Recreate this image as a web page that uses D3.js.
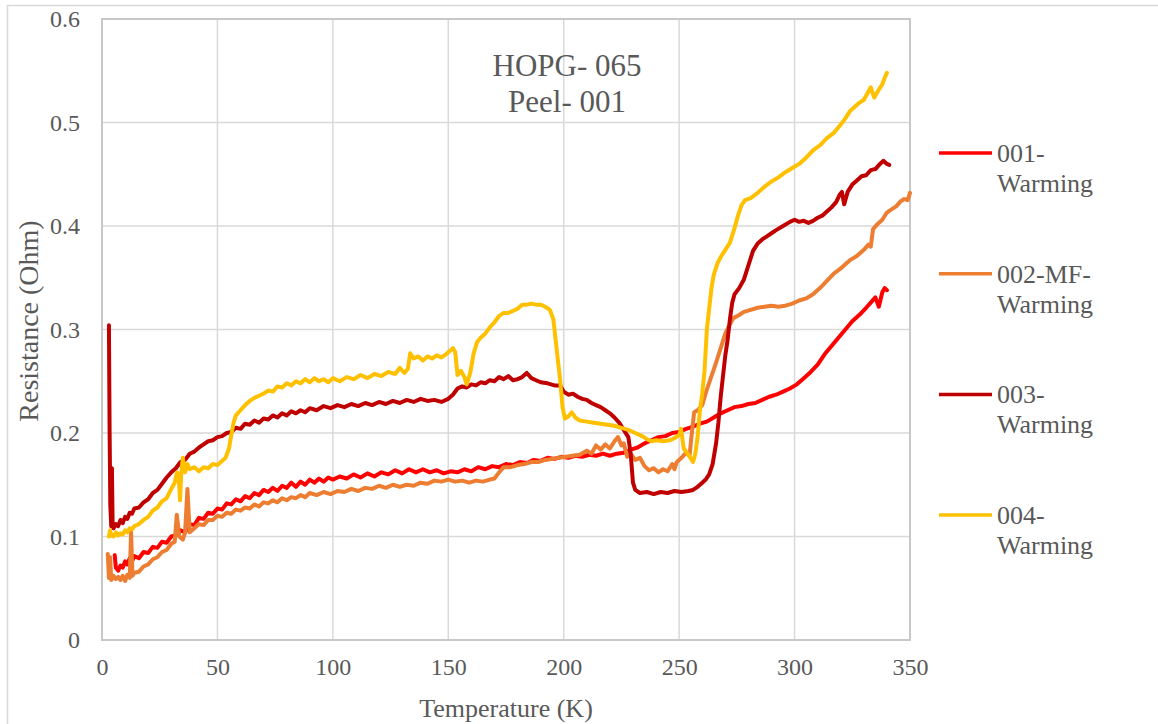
<!DOCTYPE html>
<html>
<head>
<meta charset="utf-8">
<script src="https://cdn.jsdelivr.net/npm/d3@7"></script>
<style>
  body { margin: 0; background: #fff; }
  svg text { font-family: "Liberation Serif", "Tinos", "Times New Roman", "Times", "Nimbus Roman", "Nimbus Roman No9 L", "FreeSerif", "Noto Serif", "DejaVu Serif", "Noto Serif CJK SC", serif; fill: #595959; }
</style>
</head>
<body>
<div id="chart"></div>
<script>
// data: [temperature K, resistance Ohm]
const xTicks = [0, 50, 100, 150, 200, 250, 300, 350]
const yTicks = [0, 0.1, 0.2, 0.3, 0.4, 0.5, 0.6]
const chartTitle = ["HOPG- 065", "Peel- 001"]
const seriesNames = [["001-", "Warming"], ["002-MF-", "Warming"], ["003-", "Warming"], ["004-", "Warming"]]
const seriesColors = ["#FF0000", "#ED7D31", "#C00000", "#FFC000"]

const run001 = [[5.5,0.082],[6,0.070],[7,0.067],[8,0.072],[9,0.070],[10,0.076],[11,0.073],[12,0.079],[13,0.076],[14,0.081],[16,0.079],[18,0.085],[20,0.084],[22,0.090],[24,0.089],[26,0.095],[28,0.094],[30,0.100],[32,0.101],[34,0.106],[36,0.104],[38,0.112],[40,0.111],[42,0.118],[44,0.117],[46,0.123],[48,0.122],[50,0.127],[52,0.126],[54,0.132],[56,0.131],[58,0.136],[60,0.134],[62,0.139],[64,0.137],[66,0.142],[68,0.140],[70,0.145],[72,0.143],[74,0.147],[76,0.144],[78,0.149],[80,0.147],[82,0.152],[84,0.148],[86,0.153],[88,0.150],[90,0.155],[92,0.152],[94,0.156],[96,0.153],[98,0.157],[100,0.155],[103,0.158],[106,0.156],[109,0.160],[112,0.157],[115,0.161],[118,0.158],[121,0.162],[124,0.160],[127,0.164],[130,0.161],[133,0.165],[136,0.162],[139,0.165],[142,0.162],[145,0.164],[148,0.161],[151,0.163],[154,0.162],[157,0.165],[160,0.163],[163,0.167],[166,0.165],[169,0.168],[172,0.167],[175,0.170],[178,0.169],[181,0.172],[184,0.171],[187,0.174],[190,0.173],[193,0.176],[196,0.175],[199,0.177],[202,0.176],[205,0.178],[208,0.177],[211,0.179],[214,0.178],[217,0.180],[220,0.178],[223,0.180],[226,0.181],[229,0.184],[232,0.186],[235,0.190],[238,0.193],[241,0.196],[244,0.197],[247,0.200],[250,0.201],[253,0.204],[256,0.206],[259,0.209],[262,0.211],[265,0.215],[268,0.219],[271,0.222],[274,0.225],[277,0.226],[280,0.228],[283,0.229],[286,0.232],[289,0.235],[292,0.237],[295,0.240],[298,0.243],[301,0.247],[304,0.253],[307,0.259],[310,0.266],[313,0.276],[316,0.284],[319,0.292],[322,0.300],[325,0.308],[328,0.314],[331,0.321],[333,0.326],[335,0.331],[336.5,0.322],[338,0.336],[339,0.340],[340,0.338]]

const run002 = [[2.5,0.083],[3,0.060],[3.5,0.080],[4,0.058],[5,0.062],[6,0.059],[7,0.061],[8,0.058],[9,0.062],[10,0.057],[11,0.063],[12,0.060],[12.6,0.104],[13.2,0.062],[14,0.065],[16,0.066],[18,0.071],[20,0.073],[22,0.078],[24,0.080],[26,0.085],[28,0.087],[30,0.093],[31.5,0.095],[32.4,0.121],[33.5,0.100],[35,0.097],[36,0.104],[37,0.146],[38,0.104],[40,0.108],[42,0.112],[44,0.111],[46,0.116],[48,0.116],[50,0.120],[52,0.119],[54,0.123],[56,0.122],[58,0.126],[60,0.125],[62,0.128],[64,0.127],[66,0.131],[68,0.129],[70,0.133],[72,0.132],[74,0.135],[76,0.133],[78,0.137],[80,0.135],[82,0.138],[84,0.137],[86,0.140],[88,0.138],[90,0.142],[93,0.140],[96,0.143],[99,0.141],[102,0.144],[105,0.143],[108,0.146],[111,0.144],[114,0.147],[117,0.146],[120,0.149],[123,0.147],[126,0.150],[129,0.148],[132,0.150],[135,0.149],[138,0.152],[141,0.151],[144,0.154],[147,0.153],[150,0.155],[153,0.153],[156,0.154],[159,0.152],[162,0.154],[165,0.153],[168,0.155],[170,0.156],[172,0.162],[174,0.167],[177,0.167],[180,0.169],[183,0.170],[186,0.172],[189,0.172],[192,0.174],[195,0.175],[198,0.176],[201,0.177],[204,0.178],[207,0.179],[210,0.183],[212,0.180],[214,0.188],[216,0.184],[218,0.189],[220,0.185],[222,0.192],[223.5,0.196],[225,0.188],[226,0.190],[227.5,0.177],[229,0.180],[231,0.174],[233,0.176],[235,0.168],[237,0.164],[239,0.166],[241,0.162],[243,0.165],[245,0.163],[247,0.170],[248,0.165],[249,0.172],[251,0.176],[253,0.181],[254.5,0.178],[255.5,0.200],[256.5,0.220],[258,0.222],[260,0.227],[262,0.242],[264,0.255],[266,0.268],[268,0.282],[270,0.296],[271.5,0.303],[273.5,0.311],[276,0.314],[278,0.317],[281,0.319],[284,0.321],[287,0.322],[290,0.323],[293,0.322],[296,0.323],[299,0.325],[302,0.328],[305,0.330],[308,0.334],[311,0.340],[314,0.347],[317,0.354],[320,0.359],[322,0.363],[324,0.367],[327,0.371],[330,0.377],[332,0.382],[333,0.380],[334,0.397],[336,0.402],[338,0.406],[340,0.413],[342,0.416],[344,0.419],[346,0.424],[347.5,0.426],[349,0.425],[350,0.432]]

const run003 = [[3,0.304],[3.3,0.200],[3.6,0.130],[4,0.110],[4.3,0.166],[4.6,0.112],[5,0.108],[6,0.112],[7,0.110],[8,0.116],[9,0.113],[10,0.119],[11,0.117],[12,0.123],[13,0.122],[14,0.127],[16,0.128],[18,0.133],[20,0.136],[22,0.142],[24,0.145],[26,0.151],[28,0.157],[30,0.162],[32,0.166],[34,0.172],[36,0.174],[38,0.180],[40,0.182],[42,0.186],[44,0.189],[46,0.192],[48,0.193],[50,0.196],[52,0.197],[54,0.200],[56,0.201],[58,0.205],[60,0.204],[62,0.209],[64,0.208],[66,0.212],[68,0.210],[70,0.214],[72,0.213],[74,0.217],[76,0.215],[78,0.219],[80,0.217],[82,0.221],[84,0.219],[86,0.222],[88,0.220],[90,0.224],[93,0.222],[96,0.226],[99,0.224],[102,0.227],[105,0.225],[108,0.228],[111,0.226],[114,0.229],[117,0.227],[120,0.230],[123,0.228],[126,0.231],[129,0.229],[132,0.232],[135,0.230],[138,0.233],[141,0.231],[144,0.232],[147,0.230],[150,0.233],[152,0.237],[154,0.243],[156,0.245],[158,0.244],[160,0.247],[162,0.246],[164,0.249],[166,0.248],[168,0.251],[170,0.250],[172,0.254],[174,0.252],[176,0.255],[178,0.251],[180,0.252],[182,0.254],[184,0.258],[186,0.253],[188,0.251],[190,0.249],[193,0.248],[196,0.246],[198.5,0.246],[200,0.240],[202,0.237],[204,0.238],[206,0.235],[208,0.233],[210,0.232],[212,0.229],[214,0.227],[216,0.225],[218,0.222],[220,0.219],[222,0.215],[224,0.210],[226,0.203],[228,0.196],[229,0.180],[230,0.152],[231,0.145],[233,0.142],[236,0.143],[239,0.141],[242,0.143],[245,0.142],[248,0.144],[251,0.143],[254,0.144],[256,0.145],[258,0.148],[260,0.152],[261.5,0.155],[263,0.160],[264.5,0.170],[266,0.190],[267,0.210],[268,0.235],[269,0.255],[270,0.275],[271,0.290],[272,0.310],[273,0.326],[274,0.334],[276,0.340],[278,0.348],[280,0.362],[282,0.376],[284,0.383],[286,0.387],[288,0.390],[290,0.393],[292,0.396],[295,0.400],[298,0.404],[300,0.406],[302,0.404],[304,0.405],[306,0.403],[308,0.405],[310,0.408],[312,0.410],[314,0.414],[316,0.418],[318,0.423],[319.5,0.430],[320.5,0.433],[321.5,0.421],[323,0.433],[325,0.440],[327,0.444],[329,0.448],[331,0.449],[333,0.454],[335,0.455],[337,0.460],[338.5,0.463],[340,0.460],[341,0.459]]

const run004 = [[3,0.100],[3.5,0.106],[4,0.101],[5,0.100],[6,0.104],[7,0.101],[8,0.103],[9,0.102],[10,0.106],[11,0.104],[12,0.108],[13,0.107],[14,0.110],[16,0.112],[18,0.116],[20,0.119],[22,0.125],[24,0.128],[26,0.134],[28,0.137],[30,0.146],[31.5,0.152],[32.5,0.162],[33.3,0.156],[33.8,0.135],[34.3,0.160],[35,0.176],[36,0.162],[37,0.170],[38,0.165],[40,0.167],[42,0.163],[44,0.167],[46,0.166],[48,0.170],[50,0.169],[52,0.173],[53.5,0.176],[55,0.185],[56,0.198],[57,0.210],[58,0.217],[60,0.222],[62,0.227],[64,0.231],[66,0.234],[68,0.236],[70,0.238],[72,0.241],[74,0.240],[76,0.245],[78,0.244],[80,0.248],[82,0.246],[84,0.250],[86,0.248],[88,0.252],[90,0.249],[92,0.253],[94,0.250],[96,0.252],[98,0.249],[100,0.253],[103,0.250],[106,0.254],[109,0.252],[112,0.256],[115,0.253],[118,0.257],[121,0.255],[124,0.259],[127,0.257],[129,0.263],[131,0.258],[132.5,0.262],[133.5,0.277],[135,0.272],[137,0.274],[139,0.270],[141,0.274],[143,0.272],[145,0.275],[147,0.273],[149,0.276],[150.5,0.279],[152,0.282],[153,0.278],[154,0.256],[155.5,0.260],[157,0.254],[158,0.247],[159.5,0.258],[161,0.277],[162.5,0.288],[164,0.292],[166,0.296],[168,0.302],[170,0.307],[172,0.313],[174,0.316],[176,0.316],[178,0.318],[180,0.320],[182,0.324],[184,0.324],[186,0.325],[188,0.324],[190,0.324],[192,0.322],[194,0.319],[195.5,0.310],[196.5,0.290],[197.5,0.270],[198.5,0.250],[199.5,0.225],[200.5,0.214],[202,0.216],[203.5,0.220],[205,0.215],[207,0.212],[210,0.211],[213,0.210],[216,0.209],[219,0.208],[222,0.207],[225,0.205],[228,0.203],[231,0.200],[234,0.197],[236,0.194],[238,0.192],[240,0.193],[243,0.192],[246,0.193],[248,0.195],[250,0.198],[250.8,0.204],[252,0.185],[254,0.179],[256,0.172],[257,0.180],[258,0.196],[259,0.222],[260,0.238],[261,0.260],[262,0.300],[263,0.320],[264,0.340],[265,0.353],[266.6,0.364],[268,0.370],[270,0.377],[272,0.384],[274,0.398],[275.5,0.410],[277,0.420],[278.5,0.425],[281,0.427],[284,0.432],[287,0.438],[290,0.443],[293,0.447],[296,0.452],[299,0.456],[302,0.460],[305,0.466],[308,0.473],[311,0.478],[314,0.485],[317,0.490],[320,0.498],[322,0.504],[324,0.511],[326,0.515],[328,0.519],[330,0.522],[332,0.530],[333,0.534],[334.5,0.524],[336,0.530],[338,0.537],[339,0.543],[340,0.548]]

const allRuns = [run001, run002, run003, run004]

const width = 1158
const height = 724
const plot = { left: 102, top: 19, right: 910, bottom: 640 }

const svg = d3.select("#chart")
  .append("svg")
    .attr("width", width)
    .attr("height", height)

// outer chart frame
svg.append("rect")
  .attr("x", 7.5).attr("y", 5.5)
  .attr("width", width + 20).attr("height", height + 20)
  .attr("fill", "none")
  .attr("stroke", "#d9d9d9")
  .attr("stroke-width", 1.5)

const xScale = d3.scaleLinear()
  .domain([0, 350])
  .range([plot.left, plot.right])

const yScale = d3.scaleLinear()
  .domain([0, 0.6])
  .range([plot.bottom, plot.top])

// gridlines
svg.append("g")
  .selectAll("line")
  .data(xTicks.slice(1, -1))
  .join("line")
    .attr("x1", d => xScale(d)).attr("x2", d => xScale(d))
    .attr("y1", plot.top).attr("y2", plot.bottom)
    .attr("stroke", "#d9d9d9")
    .attr("stroke-width", 1.5)

svg.append("g")
  .selectAll("line")
  .data(yTicks.slice(1, -1))
  .join("line")
    .attr("x1", plot.left).attr("x2", plot.right)
    .attr("y1", d => yScale(d)).attr("y2", d => yScale(d))
    .attr("stroke", "#d9d9d9")
    .attr("stroke-width", 1.5)

// plot area border
svg.append("rect")
  .attr("x", plot.left).attr("y", plot.top)
  .attr("width", plot.right - plot.left)
  .attr("height", plot.bottom - plot.top)
  .attr("fill", "none")
  .attr("stroke", "#c8c8c8")
  .attr("stroke-width", 2)

// axes (labels only, Excel style)
const xAxis = svg.append("g")
  .attr("transform", `translate(0, ${plot.bottom})`)
  .call(d3.axisBottom(xScale).tickValues(xTicks).tickSize(0).tickPadding(18).tickFormat(d3.format("d")))
xAxis.attr("font-family", null)
xAxis.select(".domain").remove()
xAxis.selectAll("text")
  .style("font-size", "24px")
  .attr("fill", "#595959")

const yAxis = svg.append("g")
  .attr("transform", `translate(${plot.left}, 0)`)
  .call(d3.axisLeft(yScale).tickValues(yTicks).tickSize(0).tickPadding(22).tickFormat(d => d === 0 ? "0" : d3.format(".1f")(d)))
yAxis.attr("font-family", null)
yAxis.select(".domain").remove()
yAxis.selectAll("text")
  .style("font-size", "24px")
  .attr("fill", "#595959")

svg.append("text")
  .attr("x", (plot.left + plot.right) / 2)
  .attr("y", 717)
  .attr("text-anchor", "middle")
  .style("font-size", "26px")
  .text("Temperature (K)")

svg.append("text")
  .attr("transform", `translate(38, 321) rotate(-90)`)
  .attr("text-anchor", "middle")
  .style("font-size", "28px")
  .text("Resistance (Ohm)")

// series
const line = d3.line()
  .x(d => xScale(d[0]))
  .y(d => yScale(d[1]))

svg.append("g")
  .selectAll("path")
  .data(allRuns)
  .join("path")
    .attr("d", line)
    .attr("fill", "none")
    .attr("stroke", (d, i) => seriesColors[i])
    .attr("stroke-width", 4)
    .attr("stroke-linejoin", "round")
    .attr("stroke-linecap", "round")

// title
svg.append("g")
  .selectAll("text")
  .data(chartTitle)
  .join("text")
    .attr("x", 567)
    .attr("y", (d, i) => 76 + i * 36)
    .attr("text-anchor", "middle")
    .style("font-size", "31px")
    .text(d => d)

// legend
const legend = svg.append("g")
  .selectAll("g")
  .data(seriesNames)
  .join("g")
    .attr("transform", (d, i) => `translate(939, ${153 + i * 120.7})`)

legend.append("line")
  .attr("x1", 0).attr("x2", 53)
  .attr("stroke", (d, i) => seriesColors[i])
  .attr("stroke-width", 3.5)

legend.selectAll("text")
  .data(d => d)
  .join("text")
    .attr("x", 58)
    .attr("y", (d, i) => 9 + i * 30)
    .style("font-size", "26px")
    .text(d => d)
</script>
</body>
</html>
